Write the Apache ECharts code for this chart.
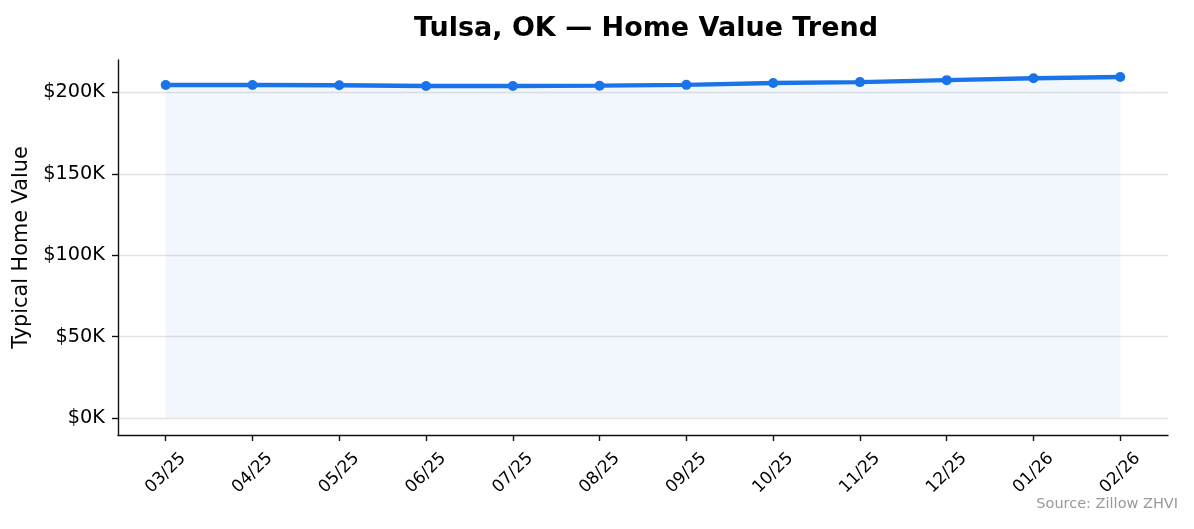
<!DOCTYPE html>
<html>
<head>
<meta charset="utf-8">
<script src="https://cdn.jsdelivr.net/npm/echarts@6/dist/echarts.min.js"></script>
<style>
  html, body { margin: 0; padding: 0; background: #fff; }
  #chart { width: 1194px; height: 529px; }
</style>
</head>
<body>
<div id="chart"></div>
<script>
const categories = ['03/25','04/25','05/25','06/25','07/25','08/25','09/25','10/25','11/25','12/25','01/26','02/26'];
const homeValues = [204500, 204500, 204400, 203900, 203900, 204100, 204600, 205700, 206300, 207500, 208700, 209400];
const yTickValues = [0, 50000, 100000, 150000, 200000];
const titleText = 'Tulsa, OK — Home Value Trend';
const yAxisTitle = 'Typical Home Value';
const sourceText = 'Source: Zillow ZHVI';

const FONT = 'DejaVu Sans';
const seriesData = homeValues.map((v, i) => [i, v]);
const xTickValues = categories.map((_, i) => i);
const dataMax = Math.max(...homeValues);
const n = categories.length - 1;

const chart = echarts.init(document.getElementById('chart'), null, { renderer: 'canvas' });
chart.setOption({
  animation: false,
  backgroundColor: '#ffffff',
  textStyle: { fontFamily: FONT },
  title: {
    text: titleText,
    left: 641,
    top: 10,
    textAlign: 'center',
    textStyle: { fontFamily: FONT, fontSize: 27, fontWeight: 'bold', color: '#000' }
  },
  graphic: [{
    type: 'text',
    right: 16,
    top: 497,
    style: { text: sourceText, fontFamily: FONT, fontSize: 14.5, fill: '#999999', textAlign: 'right' }
  }],
  grid: { left: 118, right: 26, top: 60, bottom: 94, containLabel: false },
  xAxis: {
    type: 'value',
    min: -0.05 * n,
    max: n + 0.05 * n,
    axisLine: { show: true, onZero: false, lineStyle: { color: '#111', width: 1.4 } },
    axisTick: { show: true, length: 6, lineStyle: { color: '#111', width: 1.4 }, customValues: xTickValues },
    axisLabel: {
      customValues: xTickValues,
      rotate: 45,
      align: 'center',
      verticalAlign: 'middle',
      margin: 38,
      fontFamily: FONT,
      fontSize: 17,
      color: '#000',
      formatter: (v) => categories[Math.round(v)]
    },
    splitLine: { show: false }
  },
  yAxis: {
    type: 'value',
    min: -0.05 * dataMax,
    max: 1.05 * dataMax,
    name: yAxisTitle,
    nameLocation: 'middle',
    nameRotate: 90,
    nameGap: 86,
    nameTextStyle: { fontFamily: FONT, fontSize: 20.8, color: '#000' },
    axisLine: { show: true, onZero: false, lineStyle: { color: '#111', width: 1.4 } },
    axisTick: { show: true, length: 6, lineStyle: { color: '#111', width: 1.4 }, customValues: yTickValues },
    axisLabel: {
      customValues: yTickValues,
      margin: 13,
      fontFamily: FONT,
      fontSize: 19.3,
      color: '#000',
      formatter: (v) => '$' + Math.round(v / 1000) + 'K'
    },
    splitLine: { show: true, lineStyle: { color: 'rgba(0,0,0,0.11)', width: 1.4 } }
  },
  series: [{
    type: 'line',
    data: seriesData,
    symbol: 'circle',
    symbolSize: 10,
    showSymbol: true,
    lineStyle: { color: '#1a73e8', width: 4.4 },
    itemStyle: { color: '#1a73e8' },
    areaStyle: { color: 'rgba(26,115,232,0.085)', origin: 'auto' },
    z: 3
  }]
});
</script>
</body>
</html>
